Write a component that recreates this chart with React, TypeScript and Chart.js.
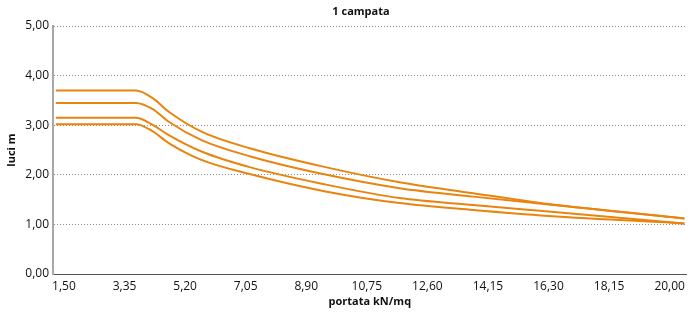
import React, { useEffect, useRef } from "react";
import { Chart, registerables } from "chart.js";

Chart.register(...registerables);

const xValues = [1.25, 3.7, 4.2, 4.7, 5.7, 7.2, 9.45, 11.75, 14.0, 16.3, 20.45];
const series1 = [3.7, 3.7, 3.55, 3.27, 2.87, 2.53, 2.16, 1.85, 1.63, 1.41, 1.12];
const series2 = [3.45, 3.45, 3.33, 3.07, 2.7, 2.37, 2.01, 1.73, 1.56, 1.4, 1.12];
const series3 = [3.15, 3.15, 3.01, 2.8, 2.47, 2.15, 1.81, 1.53, 1.39, 1.26, 1.02];
const series4 = [3.02, 3.02, 2.88, 2.64, 2.3, 2.01, 1.67, 1.43, 1.29, 1.17, 1.02];

const xTickValues = [1.5, 3.35, 5.2, 7.05, 8.9, 10.75, 12.6, 14.45, 16.3, 18.15, 20.0];
const xTickLabels = ["1,50", "3,35", "5,20", "7,05", "8,90", "10,75", "12,60", "14,15", "16,30", "18,15", "20,00"];
const yTickValues = [0, 1, 2, 3, 4, 5];
const chartTitle = "1 campata";

const LINE = "#E8840F";
const FONT = "'Open Sans', 'DejaVu Sans', sans-serif";

const titlePlugin = {
  id: "customTitle",
  afterDraw(chart: any) {
    const ctx = chart.ctx;
    ctx.save();
    ctx.font = `bold 11px ${FONT}`;
    ctx.fillStyle = "#111";
    ctx.textAlign = "center";
    ctx.textBaseline = "middle";
    ctx.fillText(chartTitle, 361, 12);
    ctx.restore();
  },
};

export default function App() {
  const ref = useRef<HTMLCanvasElement | null>(null);

  useEffect(() => {
    if (!ref.current) return;
    const mk = (vals: number[]) => ({
      data: xValues.map((x, i) => ({ x, y: vals[i] })),
      borderColor: LINE,
      borderWidth: 2,
      pointRadius: 0,
      fill: false,
      cubicInterpolationMode: "monotone" as const,
    });
    const chart = new Chart(ref.current, {
      type: "line",
      data: { datasets: [mk(series1), mk(series2), mk(series3), mk(series4)] },
      plugins: [titlePlugin],
      options: {
        animation: false,
        responsive: false,
        maintainAspectRatio: false,
        layout: { padding: { left: 0, right: 2, top: 26, bottom: 0 } },
        plugins: {
          legend: { display: false },
          tooltip: { enabled: false },
          title: { display: false },
        },
        scales: {
          x: {
            type: "linear",
            min: 1.165,
            max: 20.52,
            afterBuildTicks: (s: any) => {
              s.ticks = xTickValues.map((v) => ({ value: v }));
            },
            afterFit: (s: any) => {
              s.height = 38;
            },
            ticks: {
              autoSkip: false,
              maxRotation: 0,
              padding: 5,
              color: "#111",
              font: { family: FONT, size: 12 },
              callback: (v: any) => {
                const i = xTickValues.findIndex((t) => Math.abs(t - Number(v)) < 1e-6);
                return i >= 0 ? xTickLabels[i] : "";
              },
            },
            grid: { display: false, drawTicks: false },
            border: { display: true, color: "#555", width: 1 },
            title: {
              display: true,
              text: "portata kN/mq",
              color: "#111",
              font: { family: FONT, size: 11, weight: "bold" },
              padding: { top: 0, bottom: 4 },
            },
          },
          y: {
            type: "linear",
            min: 0,
            max: 5,
            afterBuildTicks: (s: any) => {
              s.ticks = yTickValues.map((v) => ({ value: v }));
            },
            afterFit: (s: any) => {
              s.width = 53;
            },
            ticks: {
              padding: 4,
              color: "#111",
              font: { family: FONT, size: 12 },
              callback: (v: any) => Number(v).toFixed(2).replace(".", ","),
            },
            grid: {
              drawTicks: false,
              color: (c: any) => (c.tick && c.tick.value === 0 ? "rgba(0,0,0,0)" : "#8a8a8a"),
              lineWidth: 1,
            },
            border: { display: true, color: "#a8a8a8", width: 2, dash: [1, 2] },
            title: {
              display: true,
              text: "luci m",
              color: "#111",
              font: { family: FONT, size: 11, weight: "bold" },
              padding: { top: 5, bottom: 0 },
            },
          },
        },
      },
    });
    return () => chart.destroy();
  }, []);

  return (
    <div style={{ position: "fixed", left: 0, top: 0, width: 690, height: 312, background: "#fff" }}>
      <canvas ref={ref} width={690} height={312} style={{ display: "block", width: 690, height: 312 }} />
    </div>
  );
}
